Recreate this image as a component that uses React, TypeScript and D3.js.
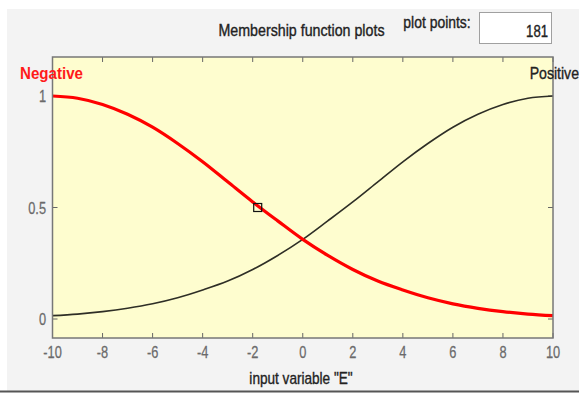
import React from "react";
import * as d3 from "d3";

// Membership functions of input variable "E"
const xValues = [-10, -9, -8, -7, -6, -5, -4, -3, -2, -1, 0, 1, 2, 3, 4, 5, 6, 7, 8, 9, 10];
const negativeValues = [1.0, 0.99, 0.962, 0.918, 0.86, 0.787, 0.705, 0.615, 0.525, 0.44, 0.357, 0.285, 0.222, 0.17, 0.13, 0.095, 0.068, 0.048, 0.033, 0.022, 0.015];
const positiveValues = [0.015, 0.022, 0.033, 0.048, 0.068, 0.095, 0.13, 0.17, 0.222, 0.285, 0.357, 0.44, 0.525, 0.615, 0.705, 0.787, 0.86, 0.918, 0.962, 0.99, 1.0];
const xTicks = [-10, -8, -6, -4, -2, 0, 2, 4, 6, 8, 10];
const yTicks = [0, 0.5, 1];
const marker = { x: -1.8, y: 0.5 };
const plotPoints = "181";

const W = 579;
const H = 394;
const left = 52.5;
const right = 553;
const top = 57;
const bottom = 338;

const FONT = "'Liberation Sans Narrow', 'Arial Narrow', 'Liberation Sans', Arial, sans-serif";

// Condensed text: squeezes the glyphs horizontally around the anchor point
function Narrow({
  x,
  y,
  anchor = "start",
  size = 15,
  fill = "#222",
  weight = "normal",
  sx = 0.8,
  heavy = 0,
  children,
}: {
  x: number;
  y: number;
  anchor?: "start" | "middle" | "end";
  size?: number;
  fill?: string;
  weight?: string;
  sx?: number;
  heavy?: number;
  children: React.ReactNode;
}) {
  return (
    <text
      transform={`translate(${x},${y}) scale(${sx},1)`}
      textAnchor={anchor}
      fontSize={size}
      fill={fill}
      fontWeight={weight}
      stroke={heavy ? fill : "none"}
      strokeWidth={heavy}
    >
      {children}
    </text>
  );
}

export default function App() {
  const x = d3.scaleLinear().domain([-10, 10]).range([left, right]);
  const y = d3.scaleLinear().domain([0, 1]).range([319, 96]);

  const line = d3
    .line<number>()
    .x((_, i) => x(xValues[i]))
    .y((d) => y(d))
    .curve(d3.curveCatmullRom);

  return (
    <svg
      width={W}
      height={H}
      style={{ position: "absolute", left: 0, top: 0, display: "block" }}
      fontFamily={FONT}
    >
      <rect x={0} y={0} width={W} height={H} fill="#ffffff" />
      <rect x={7} y={9} width={W - 7} height={382} fill="#f3f3f3" />
      <line x1={0} x2={W} y1={391.5} y2={391.5} stroke="#555" strokeWidth={2} />

      {/* header */}
      <Narrow x={301.5} y={36} anchor="middle" size={16} sx={0.89} heavy={0.35}>
        Membership function plots
      </Narrow>
      <Narrow x={437} y={28} anchor="middle" size={16} sx={0.87} heavy={0.35}>
        plot points:
      </Narrow>
      <rect x={479.5} y={12.5} width={72} height={31} fill="#fff" stroke="#a0a0a0" strokeWidth={1} />
      <Narrow x={548} y={37} anchor="end" size={16} sx={0.82} heavy={0.35}>
        {plotPoints}
      </Narrow>

      {/* axes area */}
      <rect x={left} y={top} width={right - left} height={bottom - top} fill="#fefdcf" />

      {xTicks.map((t) => (
        <g key={`xt${t}`}>
          <line x1={x(t)} x2={x(t)} y1={top} y2={top + 5} stroke="#666" />
          <line x1={x(t)} x2={x(t)} y1={bottom} y2={bottom - 5} stroke="#666" />
          <Narrow x={x(t)} y={358} anchor="middle" size={16} fill="#6a6a6a" sx={0.8} heavy={0.25}>
            {t}
          </Narrow>
        </g>
      ))}
      {yTicks.map((t) => (
        <g key={`yt${t}`}>
          <line x1={left} x2={left + 5} y1={y(t)} y2={y(t)} stroke="#666" />
          <line x1={right} x2={right - 5} y1={y(t)} y2={y(t)} stroke="#666" />
          <Narrow x={46} y={y(t) + 6} anchor="end" size={16} fill="#6a6a6a" sx={0.8} heavy={0.25}>
            {t}
          </Narrow>
        </g>
      ))}

      <path d={line(positiveValues) ?? ""} fill="none" stroke="#2e2e26" strokeWidth={1.6} />
      <path d={line(negativeValues) ?? ""} fill="none" stroke="#ff0000" strokeWidth={3.2} />
      <rect
        x={x(marker.x) - 4}
        y={y(marker.y) - 4}
        width={8}
        height={8}
        fill="none"
        stroke="#111"
        strokeWidth={1.2}
      />

      <rect x={left} y={top} width={right - left} height={bottom - top} fill="none" stroke="#777" strokeWidth={1.5} />

      {/* membership function names */}
      <Narrow x={20} y={79} size={17} weight="bold" fill="#ff1a1a" sx={0.89}>
        Negative
      </Narrow>
      <Narrow x={579} y={79} anchor="end" size={17} fill="#222" sx={0.83} heavy={0.35}>
        Positive
      </Narrow>

      <Narrow x={301} y={384} anchor="middle" size={16} sx={0.85} heavy={0.35}>
        input variable "E"
      </Narrow>
    </svg>
  );
}
